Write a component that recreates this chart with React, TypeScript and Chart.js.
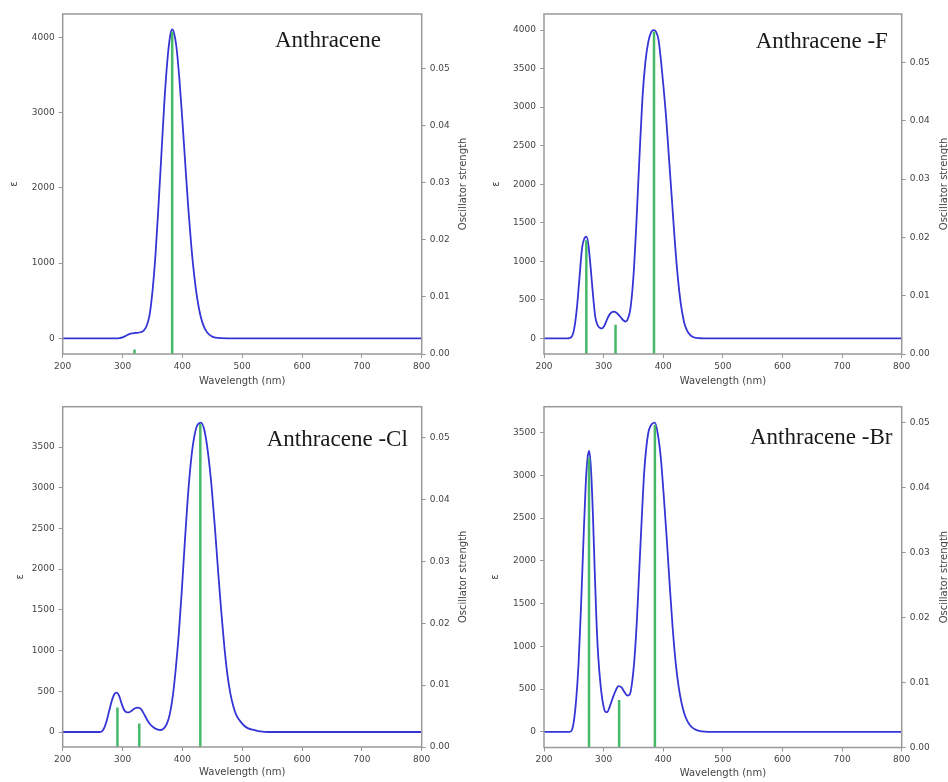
import React, { useEffect, useRef } from "react";
import { Chart, registerables } from "chart.js";
Chart.register(...registerables);

// ---------- Data ----------
const names = ["Anthracene", "Anthracene -F", "Anthracene -Cl", "Anthracene -Br"];

// Anthracene
const wl1 = [200, 290, 295, 300, 305, 310, 315, 320, 325, 330, 335, 340, 345, 350, 355, 360, 365, 370, 375, 380, 383, 386, 390, 395, 400, 405, 410, 415, 420, 425, 430, 435, 440, 445, 450, 455, 465, 475, 800];
const eps1 = [0, 0, 3, 12, 30, 52, 65, 70, 72, 80, 100, 160, 300, 620, 1100, 1750, 2450, 3150, 3700, 4040, 4107, 4060, 3880, 3450, 2900, 2300, 1720, 1220, 820, 520, 310, 175, 95, 48, 22, 10, 2, 0, 0];
const stickWl1 = [320, 383];
const stickF1 = [0.0008, 0.0565];

// Anthracene -F
const wl2 = [200, 240, 245, 250, 255, 259, 264, 268, 271, 274, 278, 282, 286, 290, 294, 297, 301, 306, 311, 317, 322, 328, 333, 337, 341, 345, 350, 355, 360, 365, 370, 375, 380, 384, 388, 392, 396, 400, 405, 410, 415, 420, 425, 430, 435, 440, 445, 450, 455, 465, 475, 800];
const eps2 = [0, 0, 10, 100, 380, 740, 1180, 1300, 1320, 1240, 940, 580, 280, 170, 135, 130, 160, 250, 320, 346, 330, 280, 235, 218, 260, 390, 800, 1500, 2330, 3100, 3580, 3850, 3975, 4000, 3975, 3880, 3620, 3300, 2850, 2300, 1750, 1200, 750, 420, 210, 100, 45, 18, 7, 1, 0, 0];
const stickWl2 = [271, 320, 384.5];
const stickF2 = [0.0195, 0.005, 0.0553];

// Anthracene -Cl
const wl3 = [200, 262, 266, 270, 274, 278, 282, 286, 290, 294, 298, 302, 306, 310, 315, 320, 326, 331, 336, 341, 346, 352, 358, 364, 369, 374, 379, 384, 389, 394, 399, 404, 409, 414, 419, 425, 431, 437, 443, 449, 455, 460, 465, 470, 475, 480, 485, 490, 496, 503, 510, 520, 530, 545, 800];
const eps3 = [0, 0, 10, 60, 150, 270, 380, 460, 483, 450, 360, 280, 245, 240, 260, 288, 300, 280, 220, 150, 95, 55, 32, 25, 45, 100, 220, 440, 780, 1200, 1730, 2320, 2870, 3300, 3590, 3770, 3800, 3700, 3420, 3000, 2450, 1950, 1480, 1060, 720, 480, 320, 210, 140, 80, 45, 25, 8, 0, 0];
const stickWl3 = [291.5, 328, 430];
const stickF3 = [0.0064, 0.0038, 0.0522];

// Anthracene -Br
const wl4 = [200, 243, 247, 250, 254, 258, 262, 266, 270, 273, 276, 279, 282, 285, 288, 291, 295, 299, 303, 306, 310, 315, 320, 325, 330, 335, 340, 344, 348, 352, 356, 360, 364, 368, 372, 376, 381, 386, 391, 396, 401, 406, 411, 416, 421, 426, 431, 436, 441, 447, 453, 460, 470, 480, 800];
const eps4 = [0, 0, 25, 120, 380, 800, 1450, 2200, 2900, 3200, 3285, 3050, 2550, 1900, 1300, 880, 540, 330, 235, 230, 290, 390, 480, 535, 520, 465, 425, 440, 590, 880, 1330, 1920, 2500, 3030, 3350, 3530, 3600, 3616, 3480, 3200, 2750, 2250, 1700, 1200, 800, 520, 330, 200, 120, 60, 30, 12, 2, 0, 0];
const stickWl4 = [275.5, 326, 386];
const stickF4 = [0.0446, 0.0073, 0.0497];

// Axis ranges and tick labels
const epsMin = [-209, -203, -184, -183];
const epsMax = [4312, 4208, 3995, 3803];
const epsTicks1 = [0, 1000, 2000, 3000, 4000];
const epsTicks2 = [0, 500, 1000, 1500, 2000, 2500, 3000, 3500, 4000];
const epsTicks3 = [0, 500, 1000, 1500, 2000, 2500, 3000, 3500];
const epsTicks4 = [0, 500, 1000, 1500, 2000, 2500, 3000, 3500];
const oscMax = [0.0596, 0.0583, 0.055, 0.05246];
const oscTicks = [0, 0.01, 0.02, 0.03, 0.04, 0.05];
const wlMin = 200;
const wlMax = 800;
const wlTicks = [200, 300, 400, 500, 600, 700, 800];

const xTitle = "Wavelength (nm)";
const yTitle = "ε";
const y2Title = "Oscillator strength";

// ---------- Layout (positions only) ----------
type Layout = {
  left: number; top: number; w: number; h: number;
  caL: number; caR: number; caT: number; caB: number;
  nameX: number; nameY: number;
  epsX: number; oscX: number; wlY: number;
};

const layouts: Layout[] = [
  { left: 0, top: 0, w: 474, h: 391, caL: 62.7, caR: 421.7, caT: 14, caB: 354, nameX: 275, nameY: 46.7, epsX: 14, oscX: 463, wlY: 381 },
  { left: 474, top: 0, w: 474, h: 391, caL: 70, caR: 427.7, caT: 14, caB: 354, nameX: 281.7, nameY: 48.3, epsX: 22.5, oscX: 470, wlY: 381 },
  { left: 0, top: 391, w: 474, h: 391, caL: 62.7, caR: 421.7, caT: 15.7, caB: 356, nameX: 266.7, nameY: 55, epsX: 20, oscX: 463, wlY: 381.7 },
  { left: 474, top: 391, w: 474, h: 391, caL: 70, caR: 427.7, caT: 15.7, caB: 356.5, nameX: 276, nameY: 53.3, epsX: 21, oscX: 470, wlY: 382.5 },
];

const series = [
  { wl: wl1, eps: eps1, sw: stickWl1, sf: stickF1, ticks: epsTicks1 },
  { wl: wl2, eps: eps2, sw: stickWl2, sf: stickF2, ticks: epsTicks2 },
  { wl: wl3, eps: eps3, sw: stickWl3, sf: stickF3, ticks: epsTicks3 },
  { wl: wl4, eps: eps4, sw: stickWl4, sf: stickF4, ticks: epsTicks4 },
];

const TICK_FONT = { family: "DejaVu Sans", size: 9 };
const TICK_COLOR = "#444";
const AXIS_COLOR = "#999";
const LINE_COLOR = "#3535d6";
const STICK_COLOR = "rgb(70,185,105)";

function setTicks(values: number[]) {
  return (sc: any) => {
    sc.ticks = values.map((v) => ({ value: v }));
  };
}

function Panel({ idx }: { idx: number }) {
  const ref = useRef<HTMLCanvasElement | null>(null);
  useEffect(() => {
    const L = layouts[idx];
    const s = series[idx];
    const canvas = ref.current!;
    const stickSets = s.sw.map((x, i) => ({
      type: "line" as const,
      data: [{ x, y: 0 }, { x, y: s.sf[i] }],
      yAxisID: "y2",
      borderColor: STICK_COLOR,
      borderWidth: 2.5,
      pointRadius: 0,
      fill: false,
    }));
    const spectrum = {
      type: "line" as const,
      data: s.wl.map((x, i) => ({ x, y: s.eps[i] })),
      yAxisID: "y",
      borderColor: LINE_COLOR,
      borderWidth: 1.8,
      pointRadius: 0,
      fill: false,
      cubicInterpolationMode: "monotone" as const,
    };
    const decor = {
      id: "decor" + idx,
      afterDraw(chart: any) {
        const ctx = chart.ctx;
        const ca = chart.chartArea;
        ctx.save();
        ctx.strokeStyle = AXIS_COLOR;
        ctx.lineWidth = 1.5;
        ctx.strokeRect(ca.left, ca.top, ca.right - ca.left, ca.bottom - ca.top);
        // plot name
        ctx.fillStyle = "#1a1a1a";
        ctx.font = "23px 'Liberation Serif'";
        ctx.textAlign = "left";
        ctx.textBaseline = "alphabetic";
        ctx.fillText(names[idx], L.nameX, L.nameY);
        // axis titles
        ctx.fillStyle = TICK_COLOR;
        ctx.font = "10px 'DejaVu Sans'";
        ctx.textAlign = "center";
        ctx.textBaseline = "middle";
        ctx.fillText(xTitle, (ca.left + ca.right) / 2, L.wlY);
        const cy = (ca.top + ca.bottom) / 2;
        ctx.save();
        ctx.translate(L.epsX, cy);
        ctx.rotate(-Math.PI / 2);
        ctx.fillText(yTitle, 0, 0);
        ctx.restore();
        ctx.save();
        ctx.translate(L.oscX, cy);
        ctx.rotate(-Math.PI / 2);
        ctx.fillText(y2Title, 0, 0);
        ctx.restore();
        ctx.restore();
      },
    };
    const gridOpts = { drawOnChartArea: false, drawTicks: true, tickLength: 4, tickColor: AXIS_COLOR, tickWidth: 1 };
    const chart = new Chart(canvas, {
      type: "line",
      data: { datasets: [...stickSets, spectrum] as any },
      options: {
        animation: false,
        responsive: false,
        events: [],
        layout: { padding: { top: L.caT, left: 0, right: 0, bottom: 0 } },
        plugins: { legend: { display: false }, tooltip: { enabled: false }, title: { display: false } },
        scales: {
          x: {
            type: "linear",
            min: wlMin,
            max: wlMax,
            offset: false,
            border: { display: false },
            grid: gridOpts,
            ticks: { font: TICK_FONT, color: TICK_COLOR, padding: 3, maxRotation: 0, autoSkip: false, callback: (v: any) => String(v) },
            afterBuildTicks: setTicks(wlTicks),
            afterFit: (sc: any) => { sc.height = L.h - L.caB; },
          },
          y: {
            type: "linear",
            position: "left",
            min: epsMin[idx],
            max: epsMax[idx],
            border: { display: false },
            grid: gridOpts,
            ticks: { font: TICK_FONT, color: TICK_COLOR, padding: 4, autoSkip: false, callback: (v: any) => String(v) },
            afterBuildTicks: setTicks(s.ticks),
            afterFit: (sc: any) => { sc.width = L.caL; },
          },
          y2: {
            type: "linear",
            position: "right",
            min: 0,
            max: oscMax[idx],
            border: { display: false },
            grid: gridOpts,
            ticks: { font: TICK_FONT, color: TICK_COLOR, padding: 4, autoSkip: false, callback: (v: any) => Number(v).toFixed(2) },
            afterBuildTicks: setTicks(oscTicks),
            afterFit: (sc: any) => { sc.width = L.w - L.caR; },
          },
        },
      } as any,
      plugins: [decor],
    });
    return () => chart.destroy();
  }, [idx]);
  const L = layouts[idx];
  return (
    <canvas
      ref={ref}
      width={L.w}
      height={L.h}
      style={{ position: "absolute", left: L.left, top: L.top, width: L.w, height: L.h }}
    />
  );
}

export default function App() {
  return (
    <div style={{ position: "absolute", left: 0, top: 0, width: 948, height: 782, background: "#fff" }}>
      {[0, 1, 2, 3].map((i) => (
        <Panel key={i} idx={i} />
      ))}
    </div>
  );
}
